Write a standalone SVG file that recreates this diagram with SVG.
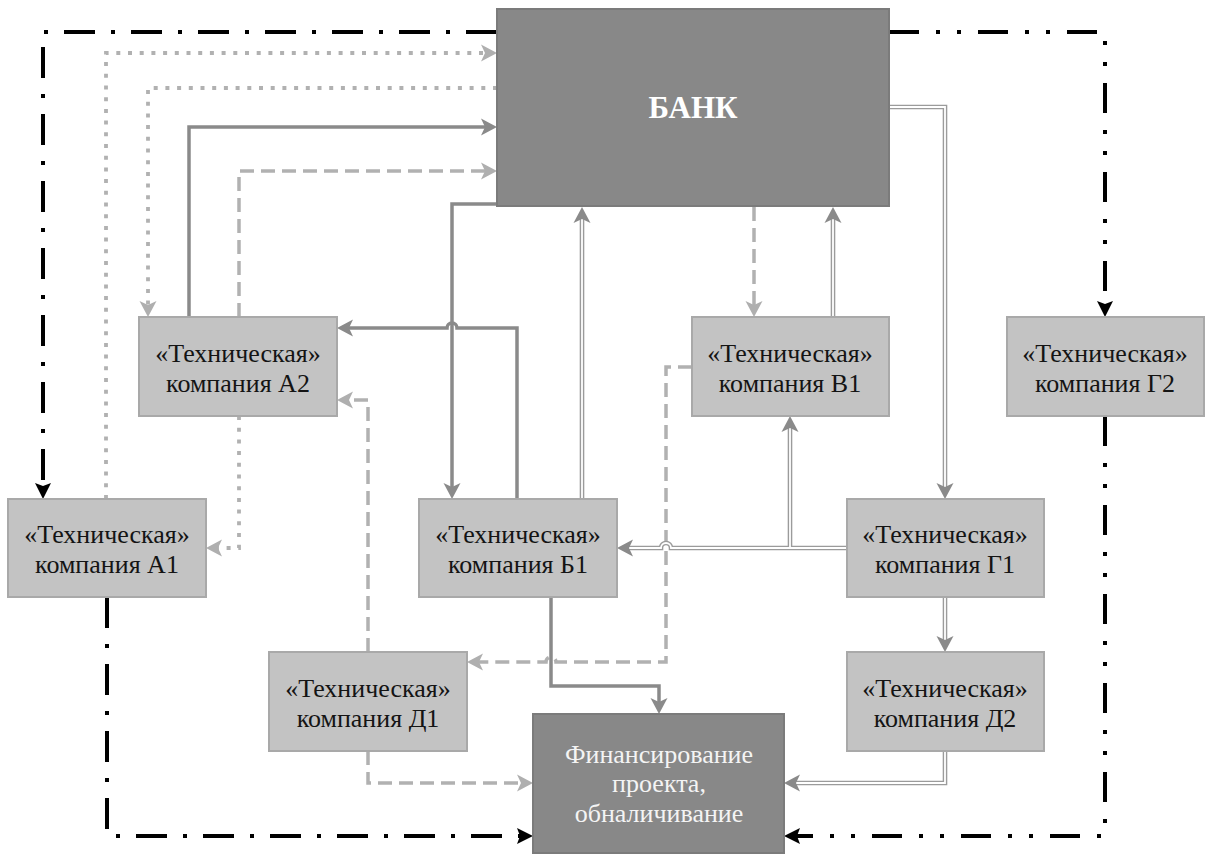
<svg xmlns="http://www.w3.org/2000/svg" width="1205" height="854" viewBox="0 0 1205 854">
  <style>
    .box { fill: #c3c3c3; stroke: #a9a9a9; stroke-width: 2; }
    .dark { fill: #888888; stroke: #7b7b7b; stroke-width: 2; }
    .lbl { font-family: "Liberation Serif", "DejaVu Serif", serif; font-size: 26px; fill: #141414; text-anchor: middle; }
    .lbl-w { font-family: "Liberation Serif", "DejaVu Serif", serif; font-size: 26px; fill: #f4f4f4; text-anchor: middle; }
    .title { font-family: "Liberation Serif", "DejaVu Serif", serif; font-size: 31px; font-weight: bold; fill: #ffffff; text-anchor: middle; }
    .ln { fill: none; stroke-linejoin: miter; }
    .solid { stroke: #8a8a8a; stroke-width: 3.5; }
    .dash { stroke: #b1b1b1; stroke-width: 3.5; stroke-dasharray: 14 7; }
    .dot { stroke: #b1b1b1; stroke-width: 3.8; stroke-dasharray: 4 7.7; }
    .dbl-out { stroke: #9b9b9b; stroke-width: 4.6; }
    .dbl-in { stroke: #ffffff; stroke-width: 1.8; }
    .blk1 { stroke: #000000; stroke-width: 4; stroke-dasharray: 31 16 4 16; }
    .blk2 { stroke: #000000; stroke-width: 4; stroke-dasharray: 30 17 4 17 4 17; }
  </style>
  <defs>
    <marker id="arrDark" markerUnits="userSpaceOnUse" markerWidth="18" markerHeight="20" viewBox="0 -10 18 20" refX="10" refY="0" orient="auto">
      <path d="M16,0 L0,-8.5 L4,0 L0,8.5 Z" fill="#8a8a8a"/>
    </marker>
    <marker id="arrLight" markerUnits="userSpaceOnUse" markerWidth="18" markerHeight="20" viewBox="0 -10 18 20" refX="10" refY="0" orient="auto">
      <path d="M16,0 L0,-8.5 L4,0 L0,8.5 Z" fill="#afafaf"/>
    </marker>
    <marker id="arrBlack" markerUnits="userSpaceOnUse" markerWidth="18" markerHeight="20" viewBox="0 -10 18 20" refX="10" refY="0" orient="auto">
      <path d="M16,0 L0,-8 L3,0 L0,8 Z" fill="#000000"/>
    </marker>
  </defs>

  <!-- connectors -->
  <g id="connectors">
    <!-- black dash-dot routes -->
    <path class="ln blk1" d="M497,32 H43 V493" marker-end="url(#arrBlack)"/>
    <path class="ln blk2" d="M889,32 H1105 V311" marker-end="url(#arrBlack)"/>
    <path class="ln blk2" d="M1105,416 V836 H790" marker-end="url(#arrBlack)"/>
    <path class="ln blk1" d="M107,597 V836 H527" marker-end="url(#arrBlack)"/>

    <!-- dotted -->
    <path class="ln dot" d="M106,499 V53 H491" marker-end="url(#arrLight)"/>
    <path class="ln dot" d="M497,88 H148 V311" marker-end="url(#arrLight)"/>
    <path class="ln dot" d="M239,416 V548 H212" marker-end="url(#arrLight)"/>

    <!-- dashed -->
    <path class="ln dash" d="M239,317 V171 H491" marker-end="url(#arrLight)"/>
    <path class="ln dash" d="M368,652 V400 H343" marker-end="url(#arrLight)"/>
    <path class="ln dash" d="M368,751 V783 H527" marker-end="url(#arrLight)"/>
    <path class="ln dash" d="M692,367 H666 V662 H556 A5,5 0 0 0 546,662 H473" marker-end="url(#arrLight)"/>
    <path class="ln dash" d="M754,207 V311" marker-end="url(#arrLight)"/>

    <!-- solid -->
    <path class="ln solid" d="M189,317 V127 H491" marker-end="url(#arrDark)"/>
    <path class="ln solid" d="M497,204 H452 V493" marker-end="url(#arrDark)"/>
    <path class="ln solid" d="M517,499 V328 H457 A5,5 0 0 0 447,328 H343" marker-end="url(#arrDark)"/>
    <path class="ln solid" d="M551,597 V686 H659 V708" marker-end="url(#arrDark)"/>

    <!-- double lines -->
    <g>
      <path class="ln dbl-out" d="M582,499 V213"/>
      <path class="ln dbl-in" d="M582,499 V213" marker-end="url(#arrDark)"/>
    </g>
    <g>
      <path class="ln dbl-out" d="M833,317 V213"/>
      <path class="ln dbl-in" d="M833,317 V213" marker-end="url(#arrDark)"/>
    </g>
    <g>
      <path class="ln dbl-out" d="M889,107 H945 V493"/>
      <path class="ln dbl-in" d="M889,107 H945 V493" marker-end="url(#arrDark)"/>
    </g>
    <g>
      <path class="ln dbl-out" d="M847,548 H671 A5,5 0 0 0 661,548 H623"/>
      <path class="ln dbl-out" d="M790,548 V422"/>
      <path class="ln dbl-in" d="M847,548 H671 A5,5 0 0 0 661,548 H623" marker-end="url(#arrDark)"/>
      <path class="ln dbl-in" d="M790,548 V422" marker-end="url(#arrDark)"/>
    </g>
    <g>
      <path class="ln dbl-out" d="M945,597 V646"/>
      <path class="ln dbl-in" d="M945,597 V646" marker-end="url(#arrDark)"/>
    </g>
    <g>
      <path class="ln dbl-out" d="M945,751 V783 H790"/>
      <path class="ln dbl-in" d="M945,751 V783 H790" marker-end="url(#arrDark)"/>
    </g>
  </g>

  <!-- nodes -->
  <g id="bank">
    <rect class="dark" x="497" y="9" width="392" height="197"/>
    <text class="title" x="693" y="118">БАНК</text>
  </g>
  <g id="company-a2">
    <rect class="box" x="139" y="317" width="198" height="99"/>
    <text class="lbl" x="238" y="362">«Техническая»</text>
    <text class="lbl" x="238" y="392">компания А2</text>
  </g>
  <g id="company-a1">
    <rect class="box" x="8" y="499" width="198" height="98"/>
    <text class="lbl" x="107" y="543">«Техническая»</text>
    <text class="lbl" x="107" y="573">компания А1</text>
  </g>
  <g id="company-b1">
    <rect class="box" x="419" y="499" width="198" height="98"/>
    <text class="lbl" x="518" y="543">«Техническая»</text>
    <text class="lbl" x="518" y="573">компания Б1</text>
  </g>
  <g id="company-v1">
    <rect class="box" x="692" y="317" width="197" height="99"/>
    <text class="lbl" x="790" y="362">«Техническая»</text>
    <text class="lbl" x="790" y="392">компания В1</text>
  </g>
  <g id="company-g1">
    <rect class="box" x="847" y="499" width="197" height="98"/>
    <text class="lbl" x="945" y="543">«Техническая»</text>
    <text class="lbl" x="945" y="573">компания Г1</text>
  </g>
  <g id="company-g2">
    <rect class="box" x="1007" y="317" width="197" height="99"/>
    <text class="lbl" x="1105" y="362">«Техническая»</text>
    <text class="lbl" x="1105" y="392">компания Г2</text>
  </g>
  <g id="company-d1">
    <rect class="box" x="269" y="652" width="198" height="99"/>
    <text class="lbl" x="368" y="697">«Техническая»</text>
    <text class="lbl" x="368" y="727">компания Д1</text>
  </g>
  <g id="company-d2">
    <rect class="box" x="847" y="652" width="197" height="99"/>
    <text class="lbl" x="945" y="697">«Техническая»</text>
    <text class="lbl" x="945" y="727">компания Д2</text>
  </g>
  <g id="financing">
    <rect class="dark" x="533" y="714" width="251" height="139"/>
    <text class="lbl-w" x="659" y="763">Финансирование</text>
    <text class="lbl-w" x="659" y="792">проекта,</text>
    <text class="lbl-w" x="659" y="822">обналичивание</text>
  </g>
</svg>
